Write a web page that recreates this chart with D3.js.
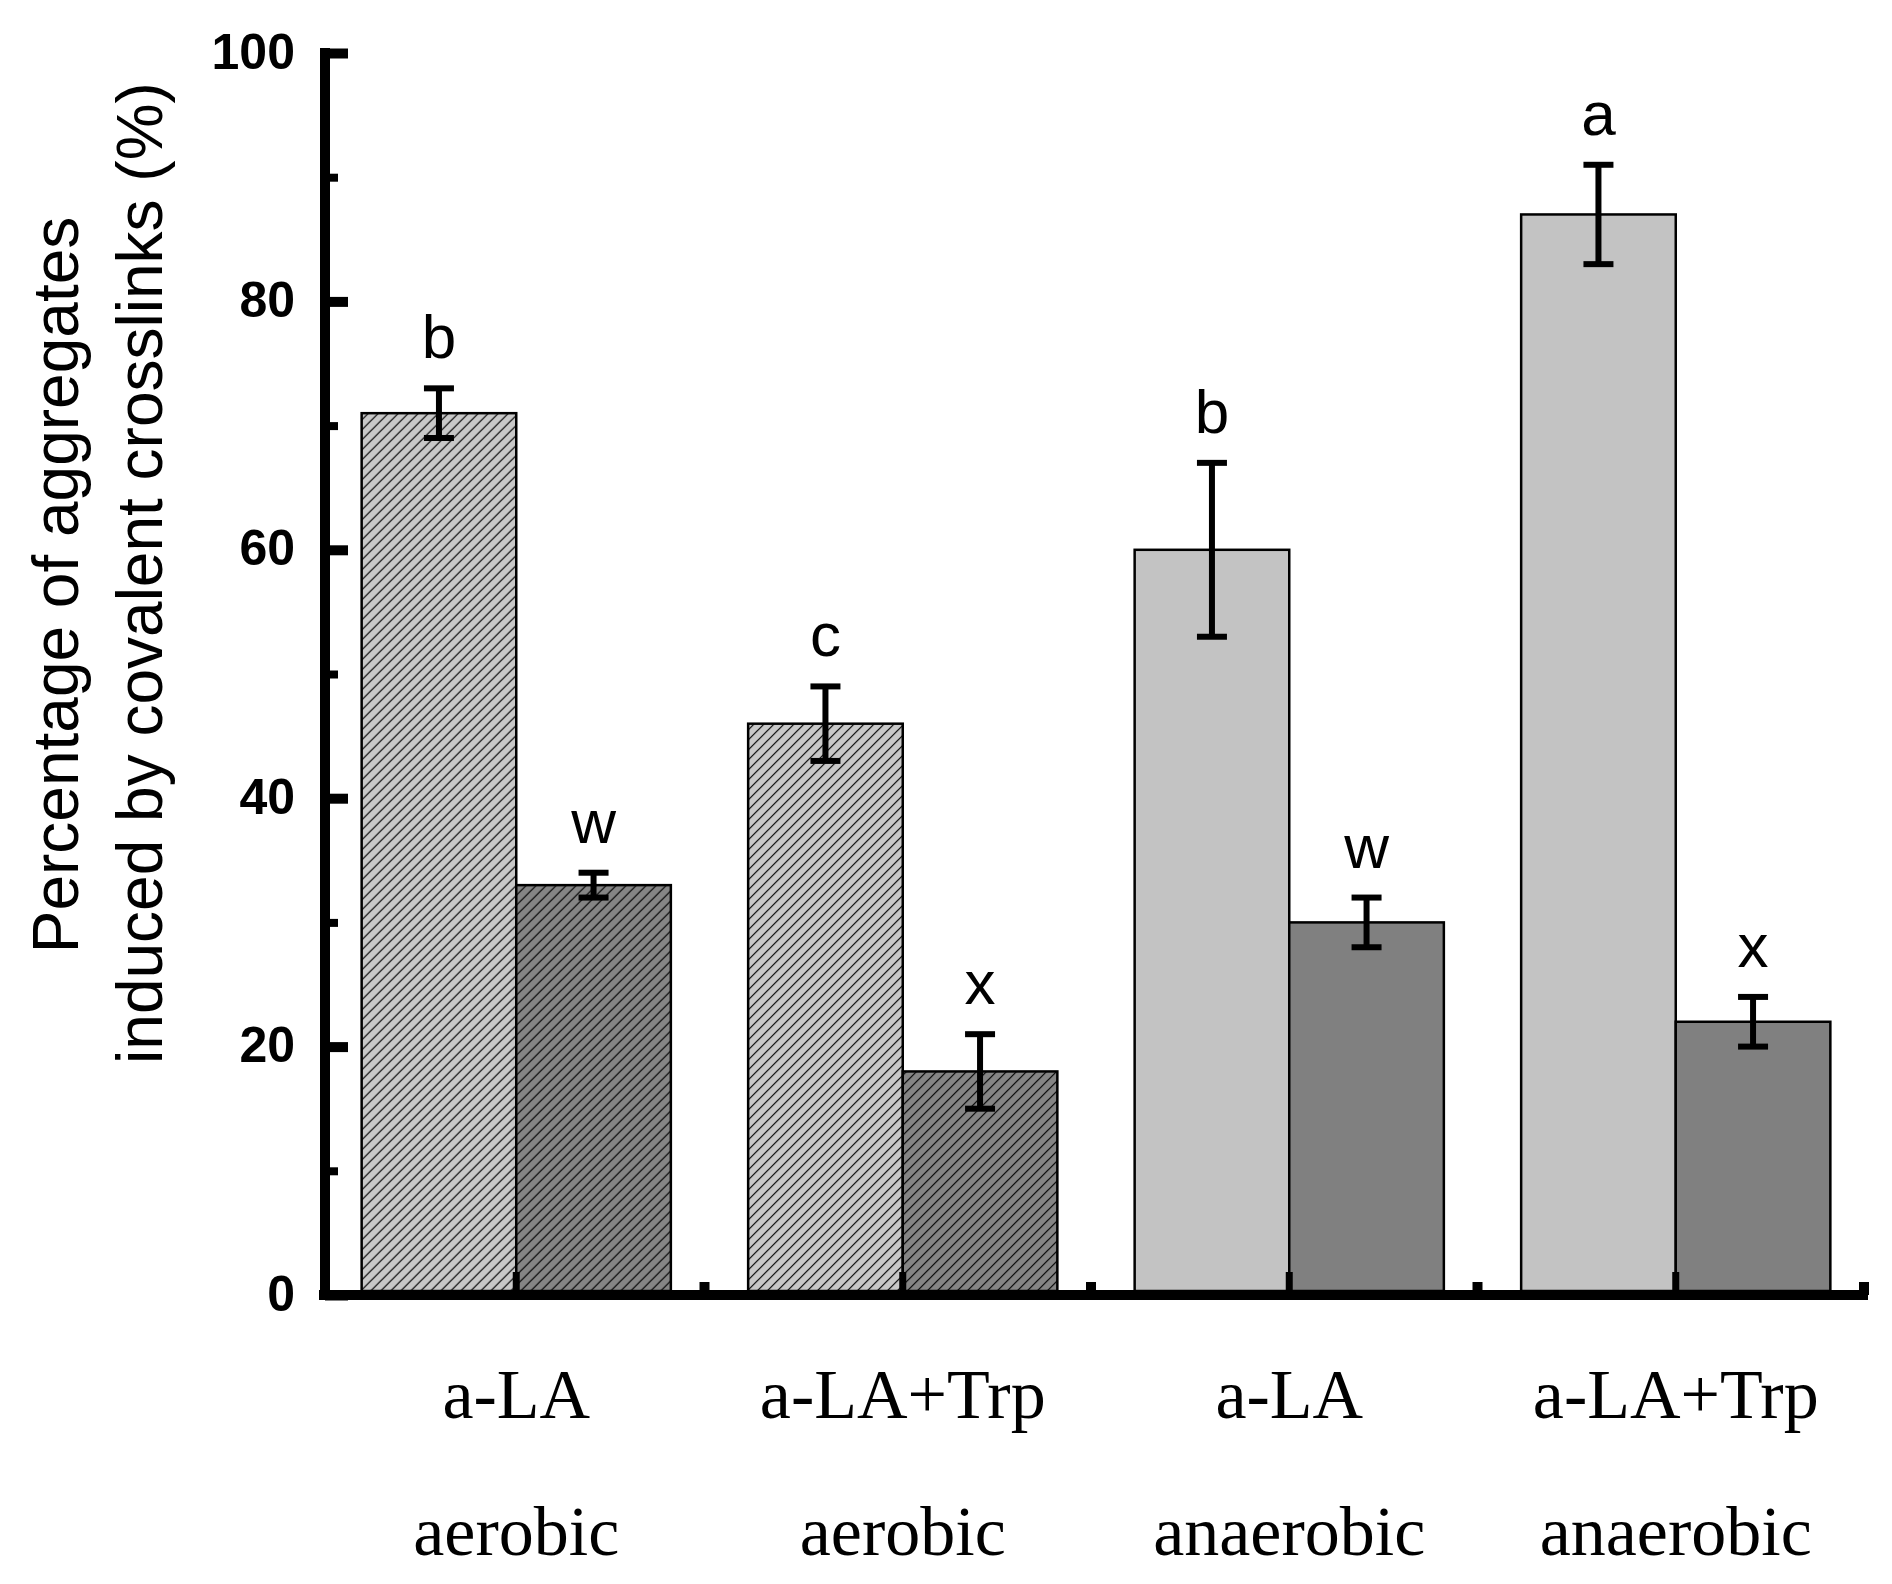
<!DOCTYPE html>
<html>
<head>
<meta charset="utf-8">
<script src="https://cdn.jsdelivr.net/npm/d3@7"></script>
<style>
  body { margin: 0; background: #fff; }
</style>
</head>
<body>
<script>
// chart values
const groups = ["g1", "g2", "g3", "g4"];
const labelRow1 = ["a-LA", "a-LA+Trp", "a-LA", "a-LA+Trp"];
const labelRow2 = ["aerobic", "aerobic", "anaerobic", "anaerobic"];
const series = ["s1", "s2"];
const values1 = [71, 46, 60, 87];
const errors1 = [2, 3, 7, 4];
const letters1 = ["b", "c", "b", "a"];
const values2 = [33, 18, 30, 22];
const errors2 = [1, 3, 2, 2];
const letters2 = ["w", "x", "w", "x"];
const yTicks = [0, 20, 40, 60, 80, 100];
const yMinorTicks = [10, 30, 50, 70, 90];
const yTitle = ["Percentage of aggregates", "induced by covalent crosslinks (%)"];

function main() {
  const W = 1892, H = 1584;
  const left = 323, right = 1869, top = 53, bottom = 1295;

  const svg = d3.select("body").append("svg")
      .attr("width", W)
      .attr("height", H)
      .style("background", "#fff");

  // hatch patterns for the aerobic bars
  const defs = svg.append("defs");
  [["hatchLight", "#c8c8c8"], ["hatchDark", "#858585"]].forEach(function(p) {
    const pat = defs.append("pattern")
        .attr("id", p[0])
        .attr("patternUnits", "userSpaceOnUse")
        .attr("width", 10)
        .attr("height", 10);
    pat.append("rect").attr("width", 10).attr("height", 10).attr("fill", p[1]);
    pat.append("path")
        .attr("d", "M0,10 L10,0 M-2,2 L2,-2 M8,12 L12,8")
        .attr("stroke", "#000")
        .attr("stroke-width", 1.2);
  });

  const colors = { s1: "#c3c3c3", s2: "#808080" };
  const hatch = { s1: "url(#hatchLight)", s2: "url(#hatchDark)" };

  const rows = groups.map(function(g, i) {
    return {
      group: g,
      aerobic: labelRow2[i] === "aerobic",
      bars: [
        { key: "s1", value: values1[i], err: errors1[i], letter: letters1[i] },
        { key: "s2", value: values2[i], err: errors2[i], letter: letters2[i] }
      ]
    };
  });

  const x0 = d3.scaleBand()
      .domain(groups)
      .range([left, right])
      .paddingInner(0.2)
      .paddingOuter(0.1);
  const x1 = d3.scaleBand()
      .domain(series)
      .range([0, x0.bandwidth()]);
  const y = d3.scaleLinear()
      .domain([0, 100])
      .range([bottom, top]);

  // bars
  const g = svg.selectAll("g.grp")
      .data(rows)
      .join("g")
      .attr("class", "grp")
      .attr("transform", d => `translate(${x0(d.group)},0)`);

  g.selectAll("rect")
      .data(d => d.bars.map(b => Object.assign({ aerobic: d.aerobic }, b)))
      .join("rect")
      .attr("x", d => x1(d.key))
      .attr("y", d => y(d.value))
      .attr("width", x1.bandwidth())
      .attr("height", d => y(0) - y(d.value) - 4)
      .attr("fill", d => d.aerobic ? hatch[d.key] : colors[d.key])
      .attr("stroke", "#000")
      .attr("stroke-width", 2.5);

  // error bars
  const cap = 15;
  const eb = g.selectAll("g.err")
      .data(d => d.bars)
      .join("g")
      .attr("class", "err")
      .attr("transform", d => `translate(${x1(d.key) + x1.bandwidth() / 2},0)`)
      .attr("stroke", "#000")
      .attr("stroke-width", 6);
  eb.append("line")
      .attr("y1", d => y(d.value + d.err))
      .attr("y2", d => y(d.value - d.err));
  eb.append("line")
      .attr("x1", -cap).attr("x2", cap)
      .attr("y1", d => y(d.value + d.err))
      .attr("y2", d => y(d.value + d.err));
  eb.append("line")
      .attr("x1", -cap).attr("x2", cap)
      .attr("y1", d => y(d.value - d.err))
      .attr("y2", d => y(d.value - d.err));

  // significance letters
  g.selectAll("text.letter")
      .data(d => d.bars)
      .join("text")
      .attr("class", "letter")
      .attr("x", d => x1(d.key) + x1.bandwidth() / 2)
      .attr("y", d => y(d.value + d.err) - 30)
      .attr("text-anchor", "middle")
      .attr("font-family", "Liberation Sans, Arial, sans-serif")
      .attr("font-size", 62)
      .attr("fill", "#000")
      .text(d => d.letter);

  // y axis
  const yAxis = svg.append("g")
      .attr("transform", `translate(${left + 2},0)`)
      .call(d3.axisLeft(y).tickValues(yTicks).tickSizeInner(-23).tickSizeOuter(0).tickPadding(30));
  yAxis.select(".domain").attr("stroke-width", 10).attr("d", `M0,${top - 5}V${bottom + 5}`);
  yAxis.selectAll(".tick line").attr("stroke-width", 10);
  yAxis.selectAll(".tick text")
      .attr("font-family", "Liberation Sans, Arial, sans-serif")
      .attr("font-weight", "bold")
      .attr("font-size", 50)
      .attr("dy", "0.3em");

  const yMinor = svg.append("g")
      .attr("transform", `translate(${left + 2},0)`)
      .call(d3.axisLeft(y).tickValues(yMinorTicks).tickSizeInner(-13).tickSizeOuter(0).tickFormat(""));
  yMinor.select(".domain").remove();
  yMinor.selectAll(".tick line").attr("stroke-width", 8);

  // x axis
  const xAxis = svg.append("g")
      .attr("transform", `translate(0,${bottom})`)
      .call(d3.axisBottom(x0).tickSizeInner(-23).tickSizeOuter(0).tickFormat(""));
  xAxis.select(".domain").attr("stroke-width", 10).attr("d", `M${left - 4},0H${right - 1}`);
  xAxis.selectAll(".tick line").attr("stroke-width", 7);

  // short ticks at the group boundaries
  const step = x0.step();
  xAxis.selectAll("line.minor")
      .data(groups)
      .join("line")
      .attr("class", "minor")
      .attr("x1", d => x0(d) - step * x0.paddingOuter() + step - 5)
      .attr("x2", d => x0(d) - step * x0.paddingOuter() + step - 5)
      .attr("y1", 0)
      .attr("y2", -13)
      .attr("stroke", "#000")
      .attr("stroke-width", 10);

  // category labels
  const lab = svg.append("g")
      .attr("font-family", "Liberation Serif, Times New Roman, serif")
      .attr("font-size", 70)
      .attr("text-anchor", "middle")
      .attr("fill", "#000");
  lab.selectAll("text.r1")
      .data(groups)
      .join("text")
      .attr("class", "r1")
      .attr("x", d => x0(d) + x0.bandwidth() / 2)
      .attr("y", 1418)
      .text((d, i) => labelRow1[i]);
  lab.selectAll("text.r2")
      .data(groups)
      .join("text")
      .attr("class", "r2")
      .attr("x", d => x0(d) + x0.bandwidth() / 2)
      .attr("y", 1555)
      .text((d, i) => labelRow2[i]);

  // y title, two lines
  const titlePos = [[78, 585], [162, 573]];
  svg.selectAll("text.ytitle")
      .data(yTitle)
      .join("text")
      .attr("class", "ytitle")
      .attr("transform", (d, i) => `translate(${titlePos[i][0]},${titlePos[i][1]}) rotate(-90)`)
      .attr("text-anchor", "middle")
      .attr("font-family", "Liberation Sans, Arial, sans-serif")
      .attr("font-size", 64)
      .attr("fill", "#000")
      .text(d => d);
}

main();
</script>
</body>
</html>
